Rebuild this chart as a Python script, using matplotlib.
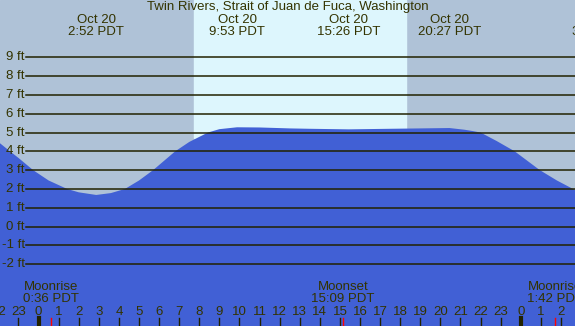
import matplotlib
matplotlib.use("Agg")
import matplotlib.pyplot as plt

# tide height (ft) against hours from midnight Oct 20 (PDT)
tide_hours = [-1.92, -1.42, -1.0, -0.27, 0.5, 1.42, 2.0, 2.87, 3.6, 4.3, 5.0, 5.7,
              6.8, 7.5, 8.43, 9.0, 9.88, 11.0, 12.5, 13.5, 15.43, 17.5, 19.0,
              20.45, 21.2, 21.6, 22.0, 22.8, 23.7, 24.95, 25.8, 26.6, 26.7]
tide_ft = [4.43, 4.0, 3.65, 3.0, 2.45, 2.0, 1.82, 1.68, 1.78, 2.0, 2.45, 3.0,
           4.0, 4.5, 5.0, 5.18, 5.28, 5.27, 5.22, 5.2, 5.17, 5.2, 5.22,
           5.24, 5.15, 5.08, 5.0, 4.55, 4.0, 3.0, 2.45, 2.0, 1.95]

event_hours = [2.87, 9.88, 15.43, 20.45, 27.93]
event_labels = ["Oct 20\n2:52 PDT", "Oct 20\n9:53 PDT", "Oct 20\n15:26 PDT",
                "Oct 20\n20:27 PDT", "Oct 21\n3:56 PDT"]

moon_hours = [0.6, 15.15, 25.7]
moon_labels = ["Moonrise\n0:36 PDT", "Moonset\n15:09 PDT", "Moonrise\n1:42 PDT"]

sunrise, sunset = 7.74, 18.28
grid_levels = list(range(-2, 10))

night = "#afc2d7"
day = "#ddf6fd"
water = "#4160d5"
ink = "#333300"
xmin, xmax = -1.92, 26.7
ymin, ymax = -5.29, 12.05

plt.rcParams["font.family"] = ["Liberation Sans", "DejaVu Sans"]
fig = plt.figure(figsize=(5.75, 3.26), dpi=100)
ax = fig.add_axes([0, 0, 1, 1])
ax.set_xlim(xmin, xmax)
ax.set_ylim(ymin, ymax)
ax.axis("off")

ax.axvspan(xmin, xmax, color=night, zorder=0)
ax.axvspan(sunrise, sunset, ymin=(4.7 - ymin) / (ymax - ymin), color=day, zorder=1)
ax.fill_between(tide_hours, ymin, tide_ft, color=water, lw=0, zorder=2)

# grid lines with ft labels
for lv in grid_levels:
    ax.plot([-0.62, xmax], [lv, lv], color="#222200", lw=1.1, zorder=3)
    ax.text(-0.68, lv, f"{lv} ft", ha="right", va="center", fontsize=9.5, color=ink, zorder=4)

ax.text(12.4, 11.68, "Twin Rivers, Strait of Juan de Fuca, Washington",
        ha="center", va="center", fontsize=9.5, color=ink)
for h, lab in zip(event_hours, event_labels):
    ax.text(h, 10.66, lab, ha="center", va="center", fontsize=9.5, color=ink,
            linespacing=0.95, clip_on=True)

for h, lab in zip(moon_hours, moon_labels):
    ax.text(h, -3.54, lab, ha="center", va="center", fontsize=9.5, color=ink,
            linespacing=0.95, clip_on=True)
    ax.plot([h, h], [ymin, -4.88], color="red", lw=1, zorder=5)

# hour ticks along bottom
for h in range(-2, 27):
    lab = str(h % 24)
    ax.text(h, -4.53, lab, ha="center", va="center", fontsize=9.5, color=ink, clip_on=True)
    thick = h % 24 == 0
    ax.plot([h, h], [ymin, -4.88], color="#222200", lw=3 if thick else 1, zorder=5)

fig.savefig("out.png", dpi=100)
